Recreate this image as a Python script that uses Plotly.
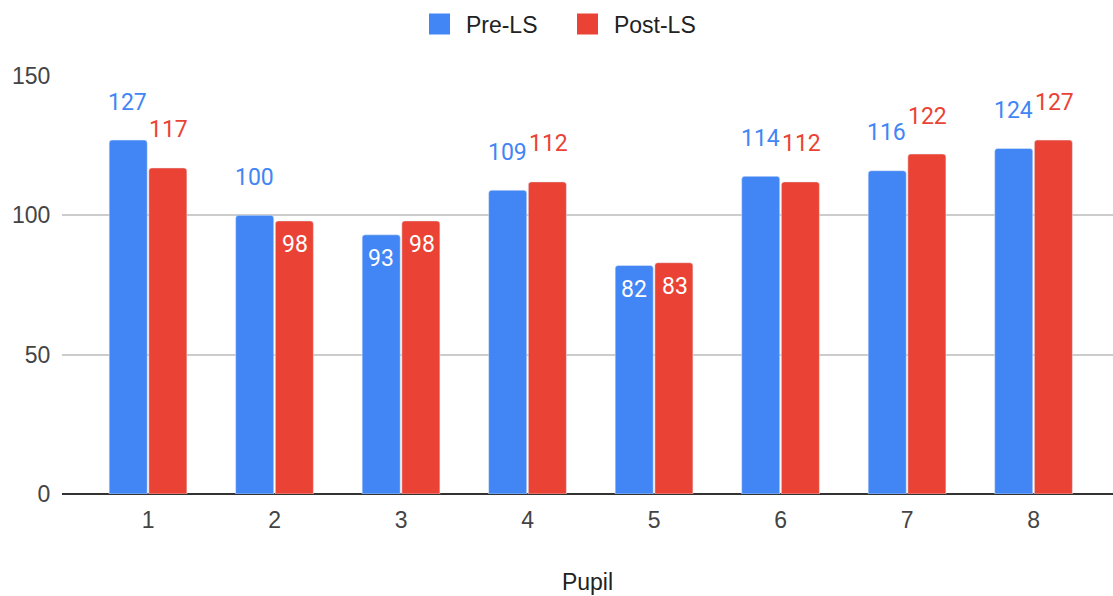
import plotly.graph_objects as go

# Scores for each pupil before and after LS
pupils = [1, 2, 3, 4, 5, 6, 7, 8]
pre_ls = [127, 100, 93, 109, 82, 114, 116, 124]
post_ls = [117, 98, 98, 112, 83, 112, 122, 127]
tick_values = [0, 50, 100, 150]

BLUE = "#4285F4"
RED = "#EA4335"
AXIS_FONT = "Liberation Sans"
LABEL_FONT = "Roboto"

# Which data labels sit inside the top of their bar (series name, pupil)
inside_labels = {("Post-LS", 2), ("Pre-LS", 3), ("Post-LS", 3),
                 ("Pre-LS", 5), ("Post-LS", 5)}

fig = go.Figure()
fig.add_trace(go.Bar(x=pupils, y=pre_ls, name="Pre-LS", marker_color=BLUE,
                     marker_cornerradius=3, showlegend=False))
fig.add_trace(go.Bar(x=pupils, y=post_ls, name="Post-LS", marker_color=RED,
                     marker_cornerradius=3, showlegend=False))

# Legend entries drawn as square swatches
for name, color in (("Pre-LS", BLUE), ("Post-LS", RED)):
    fig.add_trace(go.Scatter(x=[None], y=[None], mode="markers", name=" " + name,
                             marker=dict(symbol="square", size=16, color=color,
                                         line=dict(color=color, width=5))))

# Value labels
bar_offset = 20.5
for name, values, color, dx in (("Pre-LS", pre_ls, BLUE, -bar_offset),
                                ("Post-LS", post_ls, RED, bar_offset)):
    for p, v in zip(pupils, values):
        inside = (name, p) in inside_labels
        fig.add_annotation(x=p, y=v, text=str(v), showarrow=False,
                           xshift=dx, yshift=-24 if inside else 38,
                           font=dict(family=LABEL_FONT, size=23,
                                     color="white" if inside else color))

fig.update_layout(
    width=1113, height=596,
    margin=dict(l=62, r=0, t=76, b=102),
    plot_bgcolor="white", paper_bgcolor="white",
    barmode="group", bargap=0.373, bargroupgap=0.04,
    legend=dict(orientation="h", x=0.481, xanchor="center", y=1.124,
                yanchor="middle", entrywidth=103,
                font=dict(family=AXIS_FONT, size=23, color="#222222")),
    xaxis=dict(range=[0.32, 8.628], tickvals=pupils, showgrid=False,
               ticks="outside", ticklen=5, tickcolor="rgba(0,0,0,0)",
               tickfont=dict(family=AXIS_FONT, size=23, color="#444444"),
               title=dict(text="Pupil", standoff=42,
                          font=dict(family=AXIS_FONT, size=23, color="#222222"))),
    yaxis=dict(range=[0, 150], tickvals=tick_values, showgrid=True,
               gridcolor="#CCCCCC", gridwidth=1.5, zeroline=True,
               zerolinecolor="#333333", zerolinewidth=1.5,
               ticks="outside", ticklen=6, tickcolor="rgba(0,0,0,0)",
               tickfont=dict(family=AXIS_FONT, size=23, color="#444444")),
)

fig.write_html("out.html")
